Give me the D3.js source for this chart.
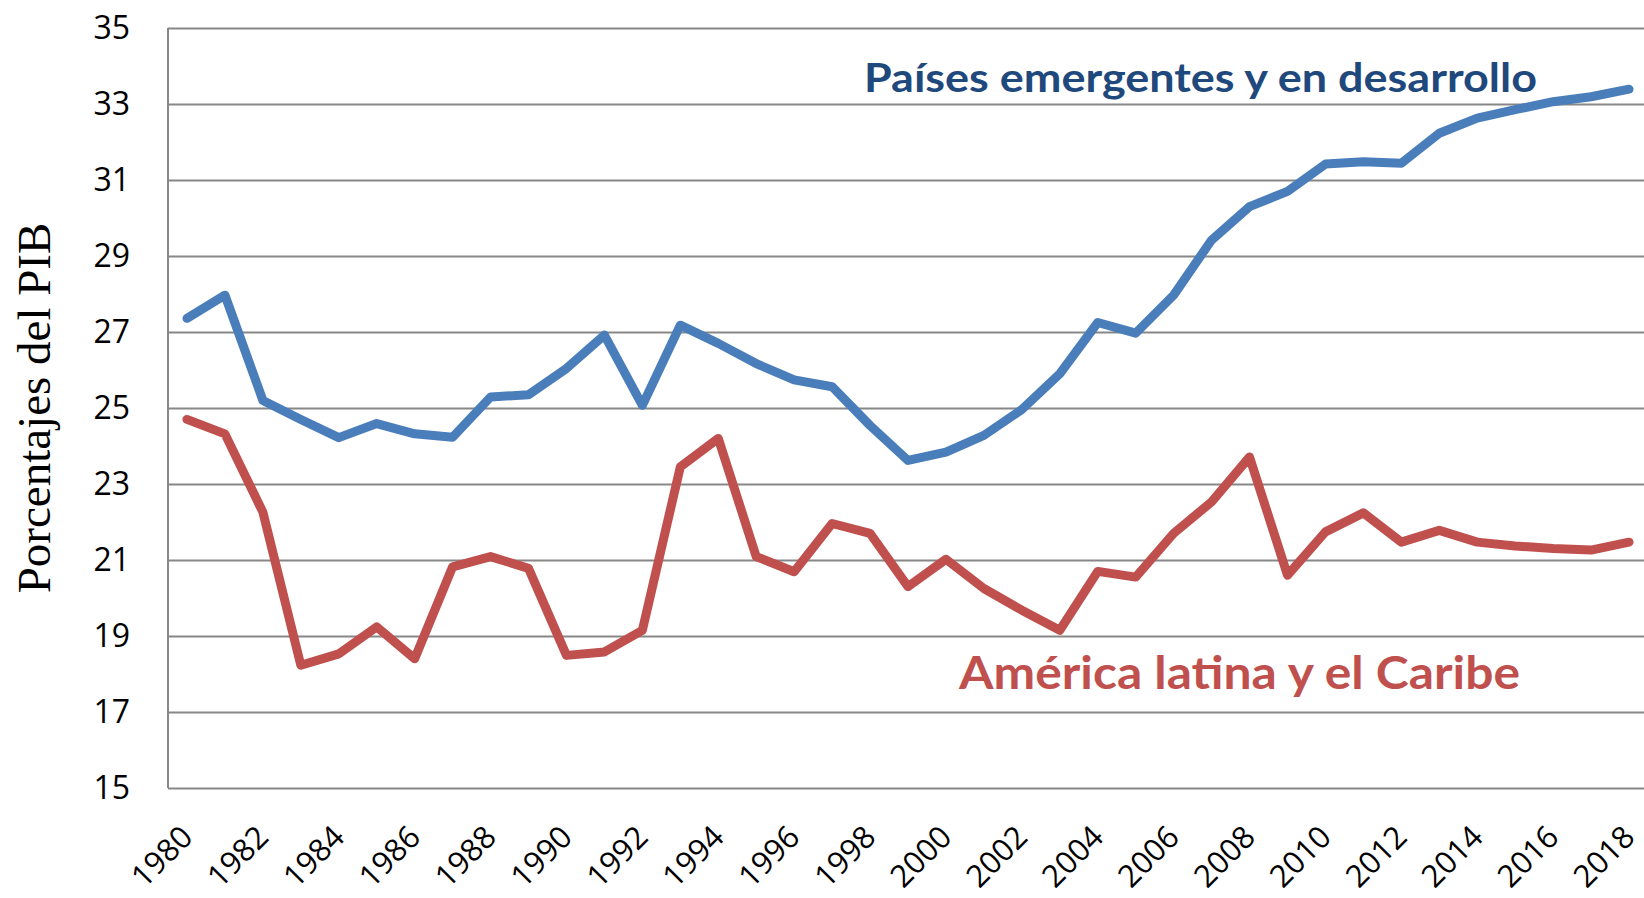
<!DOCTYPE html>
<html>
<head>
<meta charset="utf-8">
<script src="https://cdn.jsdelivr.net/npm/d3@7"></script>
<style>
  body { margin: 0; background: #fff; }
  svg { display: block; }
</style>
</head>
<body>
<div id="chart"></div>
<script>
var years = [1980, 1981, 1982, 1983, 1984, 1985, 1986, 1987, 1988, 1989,
             1990, 1991, 1992, 1993, 1994, 1995, 1996, 1997, 1998, 1999,
             2000, 2001, 2002, 2003, 2004, 2005, 2006, 2007, 2008, 2009,
             2010, 2011, 2012, 2013, 2014, 2015, 2016, 2017, 2018];

var emergentes = [27.36, 27.97, 25.2, 24.7, 24.22, 24.59, 24.32, 24.23, 25.29, 25.35,
                  26.04, 26.92, 25.07, 27.18, 26.7, 26.17, 25.74, 25.56, 24.54, 23.62,
                  23.84, 24.28, 24.96, 25.9, 27.25, 26.97, 27.97, 29.42, 30.3, 30.7,
                  31.42, 31.48, 31.44, 32.23, 32.63, 32.85, 33.06, 33.19, 33.39];

var latina = [24.7, 24.32, 22.26, 18.23, 18.53, 19.24, 18.4, 20.82, 21.09, 20.78,
              18.49, 18.58, 19.15, 23.45, 24.2, 21.09, 20.69, 21.96, 21.7, 20.3,
              21.02, 20.25, 19.68, 19.15, 20.7, 20.55, 21.7, 22.53, 23.71, 20.6,
              21.74, 22.24, 21.47, 21.78, 21.47, 21.37, 21.3, 21.26, 21.47];

var yTicks = [15, 17, 19, 21, 23, 25, 27, 29, 31, 33, 35];
var xLabels = [1980, 1982, 1984, 1986, 1988, 1990, 1992, 1994, 1996, 1998,
               2000, 2002, 2004, 2006, 2008, 2010, 2012, 2014, 2016, 2018];

var seriesNames = ["Países emergentes y en desarrollo", "América latina y el Caribe"];

var margin = { top: 28, left: 168, right: -4, bottom: 110 },
    width = 1644 - margin.left - margin.right,
    height = 898 - margin.top - margin.bottom;

var svg = d3.select("#chart")
    .append("svg")
    .attr("width", 1644)
    .attr("height", 898)
    .style("overflow", "hidden")
    .append("g")
    .attr("transform", "translate(" + margin.left + "," + margin.top + ")");

var x = d3.scalePoint().domain(years).range([0, width]).padding(0.5);
var y = d3.scaleLinear().domain([15, 35]).range([height, 0]);

// gridlines + y labels
var yAxis = svg.append("g")
    .call(d3.axisLeft(y).tickValues(yTicks).tickSize(-width).tickPadding(38));
yAxis.select(".domain").remove();
yAxis.selectAll("line").attr("stroke", "#878787").attr("stroke-width", 2);
yAxis.selectAll("text")
    .style("font-family", "'Open Sans', sans-serif")
    .style("font-size", "32px")
    .attr("fill", "#000");

// left axis line
svg.append("line")
    .attr("x1", 0).attr("x2", 0)
    .attr("y1", 0).attr("y2", height)
    .attr("stroke", "#878787").attr("stroke-width", 2);

// x labels
var xAxis = svg.append("g")
    .attr("transform", "translate(0," + height + ")")
    .call(d3.axisBottom(x).tickValues(xLabels).tickSize(0));
xAxis.select(".domain").remove();
xAxis.selectAll("text")
    .attr("x", 0).attr("y", 0).attr("dy", 0)
    .attr("transform", "translate(7,51) rotate(-45)")
    .style("text-anchor", "end")
    .style("font-family", "'Open Sans', sans-serif")
    .style("font-size", "31px")
    .attr("fill", "#000");

var line = d3.line()
    .x(function(d, i) { return x(years[i]); })
    .y(function(d) { return y(d); });

svg.append("path")
    .datum(latina)
    .attr("d", line)
    .attr("fill", "none")
    .attr("stroke", "#c0504d")
    .attr("stroke-width", 9)
    .attr("stroke-linejoin", "round")
    .attr("stroke-linecap", "round");

svg.append("path")
    .datum(emergentes)
    .attr("d", line)
    .attr("fill", "none")
    .attr("stroke", "#4a7ebb")
    .attr("stroke-width", 9)
    .attr("stroke-linejoin", "round")
    .attr("stroke-linecap", "round");

// series labels
svg.append("text")
    .attr("x", 864 - margin.left)
    .attr("y", 92 - margin.top)
    .attr("textLength", 673)
    .attr("lengthAdjust", "spacingAndGlyphs")
    .style("font-family", "Lato, sans-serif")
    .style("font-weight", "bold")
    .style("font-size", "41px")
    .attr("fill", "#1f497d")
    .text(seriesNames[0]);

svg.append("text")
    .attr("x", 959 - margin.left)
    .attr("y", 689 - margin.top)
    .attr("textLength", 561)
    .attr("lengthAdjust", "spacingAndGlyphs")
    .style("font-family", "Lato, sans-serif")
    .style("font-weight", "bold")
    .style("font-size", "45px")
    .attr("fill", "#c0504d")
    .text(seriesNames[1]);

// y title
svg.append("text")
    .attr("transform", "translate(" + (50 - margin.left) + "," + (408 - margin.top) + ") rotate(-90)")
    .style("text-anchor", "middle")
    .style("font-family", "'Liberation Serif', serif")
    .style("font-size", "47px")
    .attr("fill", "#000")
    .text("Porcentajes del PIB");
</script>
</body>
</html>
